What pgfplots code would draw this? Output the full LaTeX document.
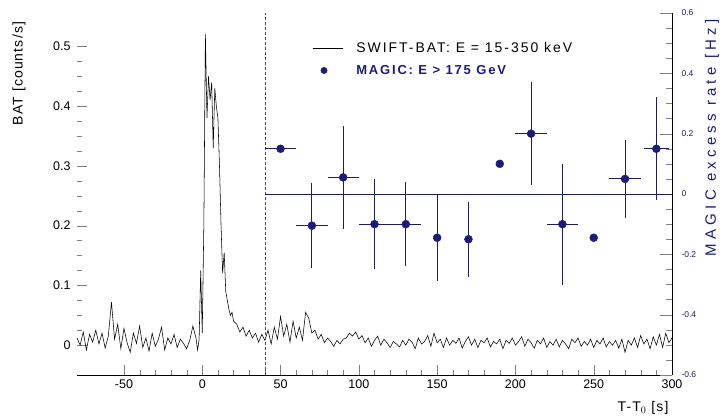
\documentclass[border=0pt]{standalone}
\usepackage{pgfplots}
\pgfplotsset{compat=1.18}
\usepackage{fontspec}
\setmainfont{Liberation Sans}
\newfontfamily\widefont[LetterSpace=8]{Liberation Sans}
\newfontfamily\widerfont[LetterSpace=14]{Liberation Sans}
\newfontfamily\widestfont[LetterSpace=28]{Liberation Sans}
\definecolor{magic}{RGB}{28,28,120}
\definecolor{magicbar}{RGB}{30,30,90}

\begin{document}
\begin{tikzpicture}
% ---------------- SWIFT-BAT light curve (left axis) ----------------
\begin{axis}[
  name=bat,
  scale only axis, width=595pt, height=362pt,
  xmin=-80, xmax=300, ymin=-0.05, ymax=0.556,
  axis x line*=bottom, axis y line*=left,
  y axis line style={draw=none},
  tick align=inside,
  major tick length=10pt, minor tick length=5pt,
  xtick={-50,0,...,300}, minor x tick num=4,
  ytick={0,0.1,0.2,0.3,0.4,0.5},
  yticklabels={0,0.1,0.2,0.3,0.4,0.5},
  minor y tick num=3,
  /pgf/number format/assume math mode=true,
  tick label style={font=\fontsize{12.5}{12.5}\selectfont},
  xticklabel style={yshift=-1pt},
  yticklabel style={xshift=-3pt},
  xlabel={T-T$_0$ [s]},
  xlabel style={font=\widefont\fontsize{14}{14}\selectfont, at={(rel axis cs:1,0)}, anchor=north east, yshift=-23pt, xshift=0pt},
  ylabel={BAT [counts/s]},
  ylabel style={font=\widefont\fontsize{14}{14}\selectfont, at={(rel axis cs:0,0.985)}, anchor=east, yshift=58pt},
  clip=false,
]
\addplot[black, line width=0.55pt, sharp plot] coordinates {
(-80,0.012)(-78,0.000)(-76,0.022)(-74,-0.008)(-72,0.018)(-70,0.005)(-68,0.025)(-66,0.002)
(-64,0.020)(-62,-0.005)(-60,0.015)(-58,0.072)(-56,0.010)(-54,0.035)(-52,-0.006)(-50,0.028)
(-48,0.004)(-46,-0.012)(-44,0.020)(-42,0.003)(-40,0.032)(-38,-0.004)(-36,0.012)(-34,-0.010)
(-32,0.020)(-30,-0.002)(-28,0.010)(-26,0.030)(-24,-0.008)(-22,0.012)(-20,0.002)(-18,0.018)
(-16,-0.004)(-14,0.010)(-12,0.003)(-10,-0.006)(-8,0.008)(-6,0.032)(-4,0.012)(-3,-0.008)
(-2,0.010)(-1,0.125)(0,0.020)(1,0.200)(2,0.520)(3,0.380)(4,0.450)(5,0.410)(6,0.440)
(7,0.330)(8,0.430)(9,0.400)(10,0.380)(11,0.300)(12,0.200)(13,0.120)(14,0.155)(15,0.090)
(16,0.075)(17,0.060)(18,0.050)(19,0.055)(20,0.040)(22,0.035)(24,0.022)(26,0.030)(28,0.015)
(30,0.025)(32,0.012)(34,0.020)(36,0.005)(38,0.018)(40,0.008)(42,0.025)(44,0.002)(46,0.030)
(48,0.010)(50,0.048)(52,0.015)(54,0.035)(56,0.005)(58,0.040)(60,0.012)(62,0.030)(64,0.008)
(66,0.055)(68,0.045)(70,0.020)(72,0.025)(74,0.010)(76,0.018)(78,0.004)(80,0.012)(82,0.006)
(84,-0.002)(86,0.008)(88,0.002)(90,0.010)(92,0.012)(94,0.020)(96,0.015)(98,0.022)(100,0.010)
(102,0.016)(104,0.004)(106,0.012)(108,-0.002)(110,0.008)(112,0.015)(114,0.000)(116,0.010)
(118,0.004)(120,-0.004)(122,0.006)(124,0.002)(126,-0.003)(128,0.008)(130,0.000)(132,0.010)
(134,0.005)(136,-0.006)(138,0.012)(140,0.002)(142,0.006)(144,0.016)(146,-0.002)(148,0.020)
(150,0.004)(152,0.010)(154,-0.004)(156,0.012)(158,0.000)(160,0.008)(162,0.003)(164,0.012)
(166,-0.005)(168,0.006)(170,0.014)(172,0.000)(174,0.010)(176,-0.004)(178,0.008)(180,0.004)
(182,0.012)(184,-0.003)(186,0.006)(188,0.002)(190,0.010)(192,-0.006)(194,0.008)(196,0.003)
(198,0.012)(200,0.000)(202,0.006)(204,0.014)(206,-0.002)(208,0.010)(210,0.004)(212,-0.005)
(214,0.008)(216,0.002)(218,0.012)(220,-0.004)(222,0.006)(224,0.000)(226,0.010)(228,-0.003)
(230,0.008)(232,0.002)(234,-0.006)(236,0.010)(238,0.004)(240,0.012)(242,-0.002)(244,0.006)
(246,0.000)(248,0.010)(250,-0.004)(252,0.008)(254,0.002)(256,0.012)(258,-0.003)(260,0.006)
(262,0.000)(264,0.008)(266,-0.005)(268,0.010)(270,-0.012)(272,0.008)(274,0.000)(276,0.012)
(278,-0.004)(280,0.016)(282,0.002)(284,0.010)(286,-0.006)(288,0.014)(290,0.000)(292,0.018)
(294,-0.004)(296,0.020)(298,0.004)(300,0.012)
};
\end{axis}

% ---------------- MAGIC excess rate (right axis) ----------------
\begin{axis}[
  scale only axis, width=595pt, height=362pt,
  xmin=-80, xmax=300, ymin=-0.6, ymax=0.6,
  axis x line=none, axis y line*=right,
  tick align=inside,
  major tick length=12pt, minor tick length=6pt,
  ytick={-0.6,-0.4,...,0.6},
  yticklabels={-0.6,-0.4,-0.2,0,0.2,0.4,0.6},
  minor y tick num=3,
  /pgf/number format/assume math mode=true,
  yticklabel style={font=\fontsize{8.5}{8.5}\selectfont, text=magicbar, xshift=6pt},
  ylabel={MAGIC excess rate [Hz]},
  ylabel style={font=\widestfont\fontsize{15}{15}\selectfont, text=magic, at={(rel axis cs:1,0.655)}, anchor=center, yshift=-40pt},
  legend style={at={(0.39,0.93)}, anchor=north west, draw=none, fill=none,
    row sep=7pt, legend cell align=left},
  legend image code/.code={\draw[#1] (0cm,0cm) -- (1.05cm,0cm); \path (1.45cm,0cm);},
  clip=false,
]
\addlegendimage{black, line width=0.8pt}
\addlegendentry{\widerfont\fontsize{14}{14}\selectfont SWIFT-BAT: E = 15-350 keV}
% inset frame: dashed left edge and zero line
\addplot[black!70, densely dashed, line width=0.5pt, forget plot] coordinates {(40,-0.6)(40,0.6)};
\addplot[magicbar, line width=0.8pt, forget plot] coordinates {(40,0)(300,0)};
\addplot[only marks, mark=*, mark size=4pt, color=magic, mark options={fill=magic},
  legend image code/.code={\fill[magic] (0.4cm,0cm) circle (3.2pt); \path (1.45cm,0cm);},
  error bars/.cd, x dir=both, x explicit, y dir=both, y explicit,
  error bar style={color=magicbar, line width=1pt}, error mark=none]
  table[x=t, y=r, x error=dt, y error=dr] {
  t   r      dt  dr
  50   0.150 10  0
  70  -0.105 10  0.140
  90   0.055 10  0.170
  110 -0.100 10  0.150
  130 -0.100 10  0.140
  150 -0.145  0  0.145
  170 -0.150  0  0.125
  190  0.100  0  0
  210  0.200 10  0.170
  230 -0.100 10  0.200
  250 -0.145  0  0
  270  0.050 10  0.130
  290  0.150  8  0.170
};
\addlegendentry{\widerfont\fontsize{13}{13}\selectfont\textcolor{magic}{\textbf{MAGIC: E > 175 GeV}}}
\end{axis}
% overall canvas
\path ([xshift=-77pt,yshift=-43pt]bat.south west) rectangle ([xshift=52pt,yshift=13pt]bat.north east);
\end{tikzpicture}
\end{document}
